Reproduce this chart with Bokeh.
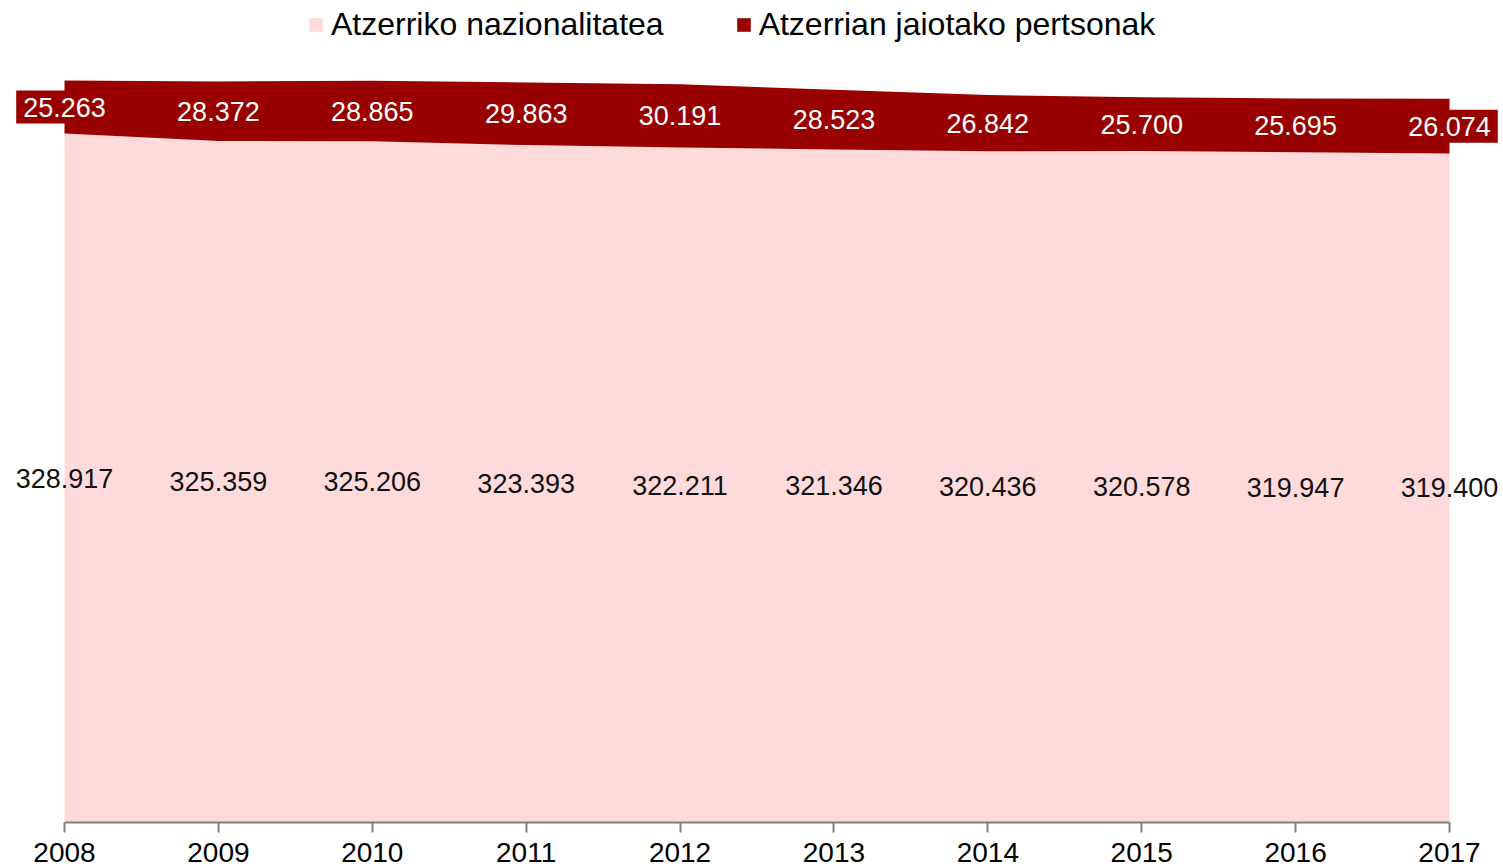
from bokeh.plotting import figure
from bokeh.models import (ColumnDataSource, Range1d, FixedTicker, LabelSet,
                          Legend, LegendItem)
from bokeh.core.properties import value
from bokeh.embed import file_html
from bokeh.resources import INLINE

# ---- data ----
years = [2008, 2009, 2010, 2011, 2012, 2013, 2014, 2015, 2016, 2017]
nationality = [328917, 325359, 325206, 323393, 322211, 321346, 320436, 320578, 319947, 319400]
born_abroad = [25263, 28372, 28865, 29863, 30191, 28523, 26842, 25700, 25695, 26074]
series_names = ["Atzerriko nazionalitatea", "Atzerrian jaiotako pertsonak"]

PINK = "#FFDADA"
DARK = "#990000"
FONT = "Liberation Sans"


def fmt(v):
    return f"{v:,}".replace(",", ".")


top = [a + b for a, b in zip(nationality, born_abroad)]
src = ColumnDataSource(dict(
    x=years,
    zero=[0] * len(years),
    nat=nationality,
    top=top,
    nat_mid=[v / 2 for v in nationality],
    born_mid=[a + b / 2 for a, b in zip(nationality, born_abroad)],
    nat_lbl=[fmt(v) for v in nationality],
    born_lbl=[fmt(v) for v in born_abroad],
))

W, H = 1503, 868
# frame spans whole width; first/last year sit at 64 px / 1449 px
px_per_year = (1449 - 64) / 9.0
x0 = years[0] - 64 / px_per_year
x1 = years[-1] + (W - 1449) / px_per_year
frame_bottom = 822
y1 = frame_bottom / 0.0020947

p = figure(width=W, height=H, output_backend="svg", toolbar_location=None,
           x_range=Range1d(x0, x1), y_range=Range1d(0, y1),
           min_border_left=0, min_border_right=0, min_border_top=0,
           min_border_bottom=H - frame_bottom, y_axis_location=None)
p.outline_line_color = None
p.xgrid.visible = False
p.ygrid.visible = False
p.background_fill_color = "white"

r1 = p.varea(x="x", y1="zero", y2="nat", source=src, fill_color=PINK)
r2 = p.varea(x="x", y1="nat", y2="top", source=src, fill_color=DARK)

ax = p.xaxis[0]
ax.bounds = (years[0], years[-1])
ax.ticker = FixedTicker(ticks=years)
ax.major_label_overrides = {y: str(y) for y in years}
ax.axis_line_color = "#808080"
ax.axis_line_width = 2
ax.major_tick_line_color = "#808080"
ax.major_tick_line_width = 2
ax.major_tick_in = 0
ax.major_tick_out = 10
ax.minor_tick_line_color = None
ax.major_label_text_font = FONT
ax.major_label_text_font_size = "28px"
ax.major_label_text_color = "black"
ax.major_label_standoff = 10

lbl_bottom = LabelSet(x="x", y="nat_mid", text="nat_lbl", source=src,
                      text_align="center", text_baseline="middle",
                      text_font=value(FONT), text_font_size="27px",
                      text_color="#111111")
# a thick border in the fill colour acts as padding around the value boxes
lbl_top = LabelSet(x="x", y="born_mid", text="born_lbl", source=src,
                   text_align="center", text_baseline="middle",
                   text_font=value(FONT), text_font_size="27px",
                   text_color="white", background_fill_color=DARK,
                   border_line_color=DARK, border_line_width=14,
                   border_line_join="miter")
p.add_layout(lbl_bottom)
p.add_layout(lbl_top)

legend = Legend(items=[LegendItem(label=series_names[0], renderers=[r1]),
                       LegendItem(label=series_names[1], renderers=[r2])],
                orientation="horizontal", location=(307, 779),
                label_text_font=FONT, label_text_font_size="32px",
                label_text_color="black",
                glyph_width=17, glyph_height=17, label_standoff=7,
                spacing=71, padding=0, margin=0,
                border_line_color=None, background_fill_alpha=0)
p.add_layout(legend)

open("out.html", "w").write(file_html(p, INLINE))
